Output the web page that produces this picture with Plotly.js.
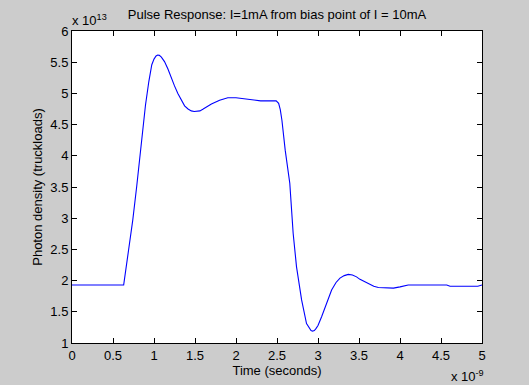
<!DOCTYPE html>
<html>
<head>
<meta charset="utf-8">
<script src="https://cdn.plot.ly/plotly-3.0.1.min.js"></script>
<style>html,body{margin:0;padding:0;background:#cccccc;}#chart{width:529px;height:385px;}</style>
</head>
<body>
<div id="chart"></div>
<script>
// Time in units of 1e-9 s, photon density in units of 1e13
const timeNs = [0, 0.63, 0.69, 0.741, 0.79, 0.831, 0.863, 0.896, 0.937, 0.973, 1.0, 1.025, 1.045, 1.065, 1.09, 1.128, 1.17, 1.21, 1.25, 1.291, 1.333, 1.373, 1.415, 1.455, 1.49, 1.516, 1.56, 1.6, 1.7, 1.8, 1.9, 2.0, 2.1, 2.2, 2.3, 2.4, 2.49, 2.52, 2.54, 2.56, 2.6, 2.656, 2.697, 2.738, 2.8, 2.86, 2.895, 2.915, 2.934, 2.955, 2.975, 3.0, 3.044, 3.1, 3.166, 3.22, 3.268, 3.32, 3.37, 3.42, 3.47, 3.512, 3.6, 3.68, 3.736, 3.83, 3.92, 4.0, 4.1, 4.57, 4.61, 4.95, 5.0];
const photonDensity = [1.93, 1.93, 2.49, 2.97, 3.52, 4.04, 4.44, 4.81, 5.19, 5.46, 5.55, 5.60, 5.615, 5.61, 5.58, 5.51, 5.39, 5.24, 5.12, 5.00, 4.89, 4.80, 4.75, 4.72, 4.71, 4.71, 4.72, 4.75, 4.83, 4.89, 4.93, 4.93, 4.91, 4.89, 4.88, 4.88, 4.88, 4.84, 4.74, 4.57, 4.09, 3.56, 2.76, 2.22, 1.69, 1.31, 1.23, 1.20, 1.19, 1.20, 1.23, 1.28, 1.42, 1.62, 1.85, 1.97, 2.04, 2.08, 2.10, 2.09, 2.06, 2.02, 1.96, 1.91, 1.89, 1.88, 1.88, 1.90, 1.93, 1.93, 1.91, 1.91, 1.93];
const xTicks = [0, 0.5, 1, 1.5, 2, 2.5, 3, 3.5, 4, 4.5, 5];
const yTicks = [1, 1.5, 2, 2.5, 3, 3.5, 4, 4.5, 5, 5.5, 6];

const font = {family: '"Liberation Sans", Arial, Helvetica, sans-serif', size: 13, color: '#000000'};

const trace = {
  x: timeNs, y: photonDensity, type: 'scatter', mode: 'lines',
  line: {color: '#0000ff', width: 1.1, shape: 'linear'}, hoverinfo: 'skip'
};

const axisCommon = {
  showgrid: false, zeroline: false, showline: true, linecolor: '#000000', linewidth: 1,
  mirror: 'ticks', ticks: 'inside', ticklen: 5, tickwidth: 1, tickcolor: '#000000',
  tickfont: font
};

const layout = {
  width: 529, height: 385,
  paper_bgcolor: '#cccccc', plot_bgcolor: '#ffffff',
  margin: {l: 72, r: 47, t: 31, b: 42},
  font: font,
  showlegend: false,
  title: {text: 'Pulse Response: I=1mA from bias point of I = 10mA', font: font, x: 0.5, xref: 'paper', y: 1, yref: 'container', yanchor: 'top', pad: {t: 10}},
  xaxis: Object.assign({}, axisCommon, {
    range: [0, 5], tickvals: xTicks, ticktext: xTicks.map(String),
    title: {text: 'Time (seconds)', font: font, standoff: 0}
  }),
  yaxis: Object.assign({}, axisCommon, {
    range: [1, 6], tickvals: yTicks, ticktext: yTicks.map(String),
    title: {text: 'Photon density (truckloads)', font: font, standoff: 4}
  }),
  annotations: [
    {text: 'x 10<sup>13</sup>', xref: 'paper', yref: 'paper', x: 0, y: 1, xanchor: 'left', yanchor: 'bottom', showarrow: false, font: font, xshift: -2, yshift: 1},
    {text: 'x 10<sup>-9</sup>', xref: 'paper', yref: 'paper', x: 1, y: 0, xanchor: 'right', yanchor: 'top', showarrow: false, font: font, xshift: 4, yshift: -23}
  ]
};

Plotly.newPlot('chart', [trace], layout, {displayModeBar: false, staticPlot: true});
</script>
</body>
</html>
